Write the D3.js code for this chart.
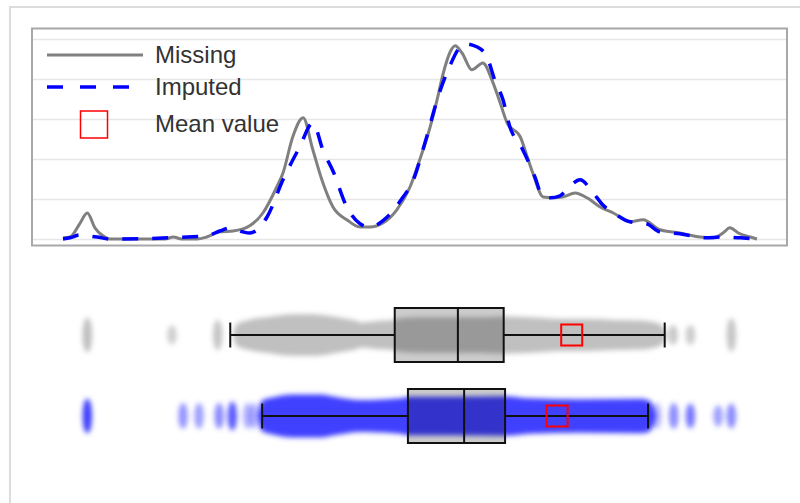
<!DOCTYPE html>
<html>
<head>
<meta charset="utf-8">
<script src="https://cdn.jsdelivr.net/npm/d3@7"></script>
<style>
  html, body { margin: 0; padding: 0; background: #fff; }
  svg { display: block; }
</style>
</head>
<body>
<svg id="chart" width="800" height="503"></svg>
<script>
// ---------------- DATA ----------------
const rows = ["Missing", "Imputed"];
const legendLabels = ["Missing", "Imputed", "Mean value"];
const gridValues = [0, 1, 2, 3, 4, 5];

// density curves [value, density]
const missingDensity = [[0,0.03],[1.0,0.05],[2.4,0.38],[3.5,0.65],[4.6,0.28],[5.6,0.10],[6.8,0],
  [11.1,0],[14.7,0],[15.9,0.05],[17.1,0],[19.3,0],[20.7,0.05],[22.6,0.18],
  [24.5,0.2],[26.9,0.33],[28.8,0.65],[30.8,1.3],[31.7,1.65],[33.1,2.55],[34.6,3.03],
  [36.0,2.23],[37.3,1.48],[38.9,0.8],[40.9,0.48],[42.8,0.3],[44.2,0.3],[46.1,0.4],
  [48.1,0.73],[50.0,1.3],[51.4,1.98],[52.9,2.8],[53.9,3.48],[54.8,4.15],[55.8,4.68],
  [56.5,4.83],[57.5,4.65],[58.9,4.23],[60.5,4.4],[61.8,3.98],[63.0,3.4],[64.0,2.9],
  [65.9,2.55],[66.9,2.05],[67.7,1.65],[69.2,1.05],[70.6,1.03],[72.0,1.05],[73.8,1.15],
  [75.5,1.03],[77.4,0.8],[79.3,0.65],[81.7,0.43],[83.6,0.48],[86.0,0.23],[88.9,0.15],
  [91.8,0.05],[93.7,0.03],[95.1,0.15],[96.1,0.28],[97.3,0.15],[99.4,0.03],[100,0]];

const imputedDensity = [[0,0],[1.0,0.03],[2.4,0.1],[3.5,0.08],[4.9,0.05],[6.8,0],
  [15.4,0.03],[17.9,0.05],[20.7,0.08],[22.6,0.2],[24.1,0.28],[25.9,0.18],[26.9,0.15],
  [29.4,0.55],[31.7,1.48],[34.1,2.3],[36.0,2.9],[37.5,2.2],[38.9,1.7],[40.9,0.8],
  [42.8,0.38],[44.2,0.3],[46.7,0.55],[49.0,1.05],[50.3,1.4],[52.2,2.43],[54.0,3.53],
  [55.8,4.35],[57.2,4.8],[57.9,4.88],[59.7,4.8],[61.1,4.55],[62.2,3.98],[63.4,3.48],
  [64.4,2.8],[66.1,2.28],[68.0,1.55],[69.0,1.1],[70.2,1.03],[71.6,1.08],[73.1,1.33],
  [74.5,1.48],[76.4,1.15],[77.8,0.85],[79.8,0.6],[81.7,0.43],[84.1,0.38],[86.0,0.18],
  [88.9,0.13],[92.5,0.03],[95.0,0.05],[97.6,0.03],[100,0]];

// box-plot statistics, one entry per row (Missing, Imputed)
const whiskerLow  = [24.1, 28.7];
const q1          = [47.8, 49.7];
const median      = [56.9, 57.8];
const q3          = [63.5, 63.7];
const whiskerHigh = [86.7, 84.3];
const means       = [73.3, 71.2];

// jittered point cloud: [value, relative spread]
const missingCloud = [[24.5,0],[25.0,0.5],[26.5,0.68],[29.8,0.85],[33.1,0.97],[36.0,0.97],
  [38.5,0.88],[40.3,0.78],[42.1,0.68],[43.1,0.58],[43.8,0.6],[45.7,0.66],[47.6,0.7],
  [48.6,0.78],[51.4,0.82],[60.1,0.82],[63.7,0.86],[67.3,0.82],[72.0,0.74],[75.9,0.74],
  [79.3,0.7],[83.1,0.68],[85.0,0.6],[86.3,0.45],[86.9,0]];
const imputedCloud = [[28.1,0],[28.6,0.7],[30.5,0.88],[33.1,1.0],[37.0,1.0],[39.5,0.87],
  [42.8,0.74],[44.7,0.75],[48.6,0.82],[50.0,0.9],[55.8,0.9],[63.7,0.92],[67.3,0.82],
  [74.5,0.78],[83.1,0.8],[84.3,0.75],[85.0,0.5],[85.5,0]];

// isolated point clusters: [value, relative spread, intensity]
const missingBlobs = [[3.5,0.8,1.0],[15.7,0.45,0.75],[22.3,0.7,0.9],[87.9,0.47,0.85],[90.4,0.47,0.8],[96.3,0.78,0.9]];
const imputedBlobs = [[3.5,0.8,1.0],[17.3,0.6,0.55],[19.6,0.6,0.5],[22.5,0.6,0.6],[24.4,0.68,0.85],
  [26.6,0.6,0.4],[27.5,0.6,0.4],[85.6,0.6,0.35],[88.0,0.6,0.6],[90.4,0.58,0.7],[94.4,0.5,0.5],[96.3,0.58,0.6]];

// ---------------- CHART ----------------
const svg = d3.select("#chart");
const FONT = "Arial, 'Liberation Sans', sans-serif";

const x = d3.scaleLinear().domain([0, 100]).range([63, 757]);
const y = d3.scaleLinear().domain([0, 5]).range([239, 39]);
const rowY = d3.scalePoint().domain(rows).range([335, 416]);
const spread = d3.scaleLinear().domain([0, 1]).range([0, 21.5]);

const plot = {left: 32, right: 787, top: 28.5, bottom: 245.5};

// blur filter for the point clouds
const defs = svg.append("defs");
defs.append("filter").attr("id", "blur")
  .attr("x", "-20%").attr("y", "-60%").attr("width", "140%").attr("height", "220%")
  .append("feGaussianBlur").attr("stdDeviation", 2.4);

// outer frame
svg.append("path")
  .attr("d", `M10,503 L10,7 L800,7`)
  .attr("fill", "none").attr("stroke", "#dcdcdc").attr("stroke-width", 2);

// gridlines
const gridAxis = d3.axisLeft(y).tickValues(gridValues)
  .tickSize(-(plot.right - plot.left)).tickFormat("");
const gg = svg.append("g").attr("transform", `translate(${plot.left},0)`).call(gridAxis);
gg.select(".domain").remove();
gg.selectAll(".tick line").attr("stroke", "#e6e6e6").attr("stroke-width", 1.5);

// plot frame
svg.append("rect")
  .attr("x", plot.left).attr("y", plot.top)
  .attr("width", plot.right - plot.left).attr("height", plot.bottom - plot.top)
  .attr("fill", "none").attr("stroke", "#a8a8a8").attr("stroke-width", 2);

// density lines
const densityLine = d3.line().x(d => x(d[0])).y(d => y(d[1])).curve(d3.curveMonotoneX);
svg.append("path").datum(missingDensity)
  .attr("d", densityLine)
  .attr("fill", "none").attr("stroke", "#808080").attr("stroke-width", 3)
  .attr("stroke-linejoin", "round");
svg.append("path").datum(imputedDensity)
  .attr("d", densityLine)
  .attr("fill", "none").attr("stroke", "#0000ff").attr("stroke-width", 3.5)
  .attr("stroke-dasharray", "16,14");

// legend
const lg = svg.append("g");
lg.append("line").attr("x1", 47).attr("x2", 143).attr("y1", 55).attr("y2", 55)
  .attr("stroke", "#808080").attr("stroke-width", 3);
lg.append("line").attr("x1", 47).attr("x2", 143).attr("y1", 87).attr("y2", 87)
  .attr("stroke", "#0000ff").attr("stroke-width", 3.5).attr("stroke-dasharray", "16,17");
lg.append("rect").attr("x", 80.5).attr("y", 111).attr("width", 27).attr("height", 27)
  .attr("fill", "none").attr("stroke", "#ff0000").attr("stroke-width", 1.5);
const legendYs = [63, 95, 132];
lg.selectAll("text.lab").data(legendLabels).join("text").attr("class", "lab")
  .attr("x", 155).attr("y", (d, i) => legendYs[i])
  .attr("font-family", FONT).attr("font-size", 24).attr("fill", "#333")
  .text(d => d);

// point clouds
const cloudColors = {"Missing": "#c0c0c0", "Imputed": "#4040ff"};
const clouds = {"Missing": missingCloud, "Imputed": imputedCloud};
const blobs = {"Missing": missingBlobs, "Imputed": imputedBlobs};

rows.forEach(r => {
  const cy = rowY(r);
  const g = svg.append("g").attr("filter", "url(#blur)");
  const area = d3.area().x(d => x(d[0]))
    .y0(d => cy - spread(d[1])).y1(d => cy + spread(d[1]))
    .curve(d3.curveMonotoneX);
  g.append("path").datum(clouds[r]).attr("d", area).attr("fill", cloudColors[r]);
  g.selectAll("ellipse").data(blobs[r]).join("ellipse")
    .attr("cx", d => x(d[0])).attr("cy", cy)
    .attr("rx", 4.8).attr("ry", d => spread(d[1]))
    .attr("fill", cloudColors[r]).attr("fill-opacity", d => d[2]);
});

// box plots
rows.forEach((r, i) => {
  const cy = rowY(r);
  const g = svg.append("g").attr("stroke", "#111").attr("stroke-width", 2);
  g.append("line").attr("x1", x(whiskerLow[i])).attr("x2", x(q1[i])).attr("y1", cy).attr("y2", cy);
  g.append("line").attr("x1", x(q3[i])).attr("x2", x(whiskerHigh[i])).attr("y1", cy).attr("y2", cy);
  g.append("line").attr("x1", x(whiskerLow[i])).attr("x2", x(whiskerLow[i])).attr("y1", cy - 12.5).attr("y2", cy + 12.5);
  g.append("line").attr("x1", x(whiskerHigh[i])).attr("x2", x(whiskerHigh[i])).attr("y1", cy - 12.5).attr("y2", cy + 12.5);
  g.append("rect").attr("x", x(q1[i])).attr("y", cy - 27)
    .attr("width", x(q3[i]) - x(q1[i])).attr("height", 54)
    .attr("fill", "#000").attr("fill-opacity", 0.2);
  g.append("line").attr("x1", x(median[i])).attr("x2", x(median[i])).attr("y1", cy - 27).attr("y2", cy + 27);
  svg.append("rect").attr("x", x(means[i]) - 10.5).attr("y", cy - 10.5)
    .attr("width", 21).attr("height", 21)
    .attr("fill", "none").attr("stroke", "#ff0000").attr("stroke-width", 2);
});
</script>
</body>
</html>
